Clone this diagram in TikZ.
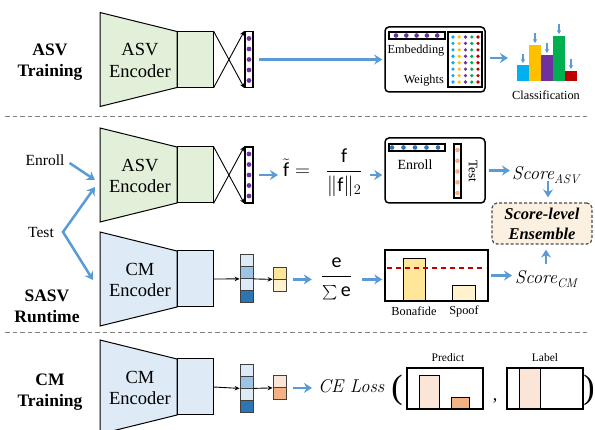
\documentclass[tikz,border=0pt]{standalone}
\usepackage{amsmath}
\usepackage{fontspec}
\newfontfamily\tnr{Liberation Serif}
\newfontfamily\carl{Carlito}
\usetikzlibrary{arrows.meta}
\definecolor{encgreen}{HTML}{E2F0D9}
\definecolor{encblue}{HTML}{DEEBF7}
\definecolor{arrblue}{HTML}{5B9BD5}
\definecolor{purp}{HTML}{7030A0}
\definecolor{dotblue}{HTML}{2E75B6}
\definecolor{dotorange}{HTML}{F4B183}
\definecolor{wcyan}{HTML}{00B0F0}
\definecolor{wgold}{HTML}{FFC000}
\definecolor{wgreen}{HTML}{00B050}
\definecolor{wred}{HTML}{C00000}
\definecolor{vlight}{HTML}{DEEBF7}
\definecolor{vmid}{HTML}{9DC3E6}
\definecolor{vdark}{HTML}{2E75B6}
\definecolor{ylw}{HTML}{FFE699}
\definecolor{ylwlight}{HTML}{FFF2CC}
\definecolor{peach}{HTML}{FBE5D6}
\definecolor{ensfill}{HTML}{FCF0E1}
\definecolor{sepgray}{HTML}{808080}
\newcommand{\myenc}[4]{%
  \draw[encline, fill=#2] (100,#1-47) -- (177,#1-28) -- (177,#1+28) -- (100,#1+47) -- cycle;
  \node[encrect, fill=#2] (#4r) at (195,#1) {};
  \node[enctext] (#4) at (140,#1+1) {#3\\Encoder};
}
\newcommand{\myvec}[2]{%
  \node[cell,fill=vlight] (#2a) at (246.5,#1-18) {};
  \node[cell,fill=vmid] (#2b) at (246.5,#1-6) {};
  \node[cell,fill=vlight] (#2c) at (246.5,#1+6) {};
  \node[cell,fill=vdark] (#2d) at (246.5,#1+18) {};
}
\newcommand{\myscore}[1]{{\itshape Score}\raisebox{-4pt}{\fontsize{12.5}{13}\selectfont\itshape #1}}
\begin{document}
\begin{tikzpicture}[x=1pt,y=-1pt,
  encline/.style={draw=black,line width=1pt,line join=miter},
  encrect/.style={draw=black,line width=1pt,minimum width=36pt,minimum height=56pt,inner sep=0pt},
  enctext/.style={align=center,font=\tnr\fontsize{18.5}{21.5}\selectfont,inner sep=0pt},
  seclabel/.style={align=center,font=\tnr\fontsize{17.5}{21}\selectfont\bfseries,inner sep=0pt},
  embbar/.style={draw=black,fill=white,line width=1.2pt,minimum width=8pt,minimum height=56pt,inner sep=0pt},
  karrow/.style={draw=black,line width=0.9pt,-{Stealth[length=5pt,width=4.5pt]}},
  barrow/.style={draw=arrblue,line width=2.5pt,-{Stealth[length=8pt,width=10pt]}},
  sarrow/.style={draw=arrblue,line width=1.2pt,-{Stealth[length=4pt,width=4.5pt]}},
  cell/.style={draw=black!75,line width=0.8pt,minimum width=13pt,minimum height=12pt,inner sep=0pt},
  rbox/.style={draw=black,line width=1.5pt,rounded corners=4pt,minimum width=100pt,minimum height=65pt,inner sep=0pt},
  sep/.style={draw=sepgray,line width=1pt,dash pattern=on 4.5pt off 3pt},
  lbl/.style={inner sep=0pt,font=\tnr\fontsize{12.3}{14}\selectfont},
  side/.style={inner sep=0pt,font=\tnr\fontsize{15.5}{18}\selectfont},
  hbar/.style={draw=black,fill=white,line width=1.2pt,minimum width=56pt,minimum height=7pt,inner sep=0pt},
  plainbox/.style={draw=black,line width=1.5pt,inner sep=0pt},
]
\useasboundingbox (0,0) rectangle (595,430);

% ---------------- ASV Training ----------------
\node[seclabel] (l1) at (50,62) {ASV\\Training};
\myenc{59.5}{encgreen}{ASV}{a1}
\node[embbar] (e1) at (249,59.5) {};
\foreach \d in {-21,-10.5,0,10.5,21} \fill[purp] (249,59.5+\d) circle[radius=2.4pt];
\draw[karrow] (a1r.north east) -- (e1.south west);
\draw[karrow] (a1r.south east) -- (e1.north west);

\node[rbox] (b1) at (435,59.5) {};
\draw[barrow,shorten <=5pt,shorten >=2pt] (e1.east) -- (b1.west);
\node[hbar] (emb1) at (417,35.5) {};
\foreach \x in {396,406.3,416.6,426.9,437.2} \fill[purp] (\x,35.5) circle[radius=2.3pt];
\node[lbl] (embt) at (416,51) {Embedding};
\node[lbl,anchor=east] (wt) at (444,81) {Weights};
\node[draw=black,line width=1.2pt,minimum width=34pt,minimum height=55pt,inner sep=0pt] (wm) at (465,59.5) {};
\foreach \c/\x in {wcyan/453,wgold/459.2,purp/465.5,wgreen/471.8,wred/478}
  \foreach \k in {0,...,7} \fill[\c] (\x,37+\k*6.43) circle[radius=1.8pt];

\coordinate (ch) at (508,58);
\draw[barrow,shorten <=4pt] (b1.east |- ch) -- (ch);
\fill[wcyan] (517,65) rectangle (529,81);
\fill[wgold] (529,45) rectangle (541,81);
\fill[purp] (541,55) rectangle (553,81);
\fill[wgreen] (553,36) rectangle (565,81);
\fill[wred] (565,71) rectangle (577,81);
\draw[sarrow] (523,54) -- (523,63);
\draw[sarrow] (535,33) -- (535,43);
\draw[sarrow] (547,43) -- (547,53);
\draw[sarrow] (559,24) -- (559,34);
\draw[sarrow] (571,59) -- (571,69);
\node[lbl] (cls) at (546,95) {Classification};

\draw[sep] (5,116.5) -- (590,116.5);

% ---------------- SASV Runtime ----------------
\node[side] (enr) at (45,160) {Enroll};
\node[side] (tst) at (41,233) {Test};
\myenc{175}{encgreen}{ASV}{a2}
\coordinate (a2in1) at (95,180);
\coordinate (a2in2) at (95,187);
\coordinate (tv) at (63,232);
\coordinate (cmin) at (93,280);
\draw[barrow] ([xshift=5pt,yshift=-3pt]enr.east) -- (a2in1);
\draw[draw=arrblue,line width=2.5pt,{Stealth[length=8pt,width=10pt]}-{Stealth[length=8pt,width=10pt]}] (a2in2) -- (tv) -- (cmin);

\node[embbar] (e2) at (249,175) {};
\foreach \d in {-21,-10.5,0,10.5,21} \fill[purp] (249,175+\d) circle[radius=2.4pt];
\draw[karrow] (a2r.north east) -- (e2.south west);
\draw[karrow] (a2r.south east) -- (e2.north west);

\node[anchor=base west,inner sep=0pt,font=\carl\fontsize{20}{24}\selectfont] (form1) at (283,177)
  {$\tilde{\mbox{f}}=\hspace{10pt}\displaystyle\frac{\mbox{f}}{\|\mbox{f}\|_{2}}$};
\draw[barrow,shorten <=5pt,shorten >=5pt] (e2.east) -- (e2.east -| form1.west);

\node[rbox] (b2) at (435,170.5) {};
\draw[barrow,shorten <=7pt,shorten >=2pt] (e2.east -| form1.east) -- (e2.east -| b2.west);
\node[hbar] (emb2) at (417,147.5) {};
\foreach \x in {392,403.5,415,426.5,438} \fill[dotblue] (\x,147.5) circle[radius=2.3pt];
\node[inner sep=0pt,font=\tnr\fontsize{14}{16}\selectfont] (enr2) at (415,165) {Enroll};
\node[draw=black,fill=white,line width=1.2pt,minimum width=7pt,minimum height=54pt,inner sep=0pt] (tb2) at (457.5,171) {};
\foreach \y in {150,160.8,171.5,182.3,193} \fill[dotorange] (457.5,\y) circle[radius=2.3pt];
\node[inner sep=0pt,rotate=-90,font=\tnr\fontsize{13}{15}\selectfont] (tst2) at (473,171) {Test};

\node[anchor=base west,inner sep=0pt,font=\fontsize{18.5}{20}\selectfont] (sasv) at (512,180) {\myscore{ASV}};
\draw[barrow,shorten <=3pt,shorten >=2pt] (b2.east) -- (b2.east -| sasv.west);

\node[draw=black!70,dash pattern=on 3pt off 2pt,line width=1.2pt,rounded corners=5pt,fill=ensfill,
      minimum width=100pt,minimum height=41pt,inner sep=0pt,align=center,
      font=\tnr\fontsize{16.5}{20}\selectfont\bfseries\itshape] (ens) at (542,223.5) {Score-level\\Ensemble};
\draw[barrow] ([xshift=6pt,yshift=21pt]ens.north) -- ([xshift=6pt,yshift=5pt]ens.north);

\myenc{279}{encblue}{CM}{c2}
\myvec{278.5}{v2}
\draw[karrow] (c2r.east) -- (v2b.south west);
\node[cell,fill=ylw] (s2a) at (279.5,273) {};
\node[cell,fill=ylwlight] (s2b) at (279.5,285) {};
\draw[karrow] (v2b.south east) -- (s2a.south west);

\node[anchor=base,inner sep=0pt,font=\carl\fontsize{20}{24}\selectfont] (form2) at (336.5,282)
  {$\displaystyle\frac{\mbox{e}}{\mbox{\fontsize{15}{15}\selectfont$\sum$}\,\mbox{e}}$};
\draw[barrow,shorten <=7pt,shorten >=9pt] (s2a.south east) -- (s2a.south east -| form2.west);

\node[plainbox,minimum width=103pt,minimum height=51pt] (b3) at (436.5,275.5) {};
\draw[barrow,shorten <=10pt,shorten >=2pt] (s2a.south east -| form2.east) -- (s2a.south east -| b3.west);
\draw[line width=1pt,fill=ylw] (403,259) rectangle (425,301);
\draw[line width=1pt,fill=ylwlight] (452,286) rectangle (475,301);
\draw[wred,line width=1.3pt,dash pattern=on 5pt off 4pt] (387,268) -- (486,268);
\node[lbl] (bona) at (414,311) {Bonafide};
\node[lbl] (spf) at (464,311) {Spoof};

\node[anchor=base west,inner sep=0pt,font=\fontsize{18.5}{20}\selectfont] (scm) at (515,284) {\myscore{CM}};
\draw[barrow,shorten <=2pt,shorten >=3pt] (b3.east) -- (b3.east -| scm.west);
\draw[barrow] ([xshift=4pt,yshift=-19pt]ens.south) -- ([xshift=4pt,yshift=-5pt]ens.south);

\node[seclabel] (l2) at (47,306) {SASV\\Runtime};

\draw[sep] (5,332.5) -- (590,332.5);

% ---------------- CM Training ----------------
\node[seclabel] (l3) at (50,392) {CM\\Training};
\myenc{387}{encblue}{CM}{c3}
\myvec{388}{v3}
\draw[karrow] (c3r.east) -- (v3b.south west);
\node[cell,fill=peach] (s3a) at (279.5,381.5) {};
\node[cell,fill=dotorange] (s3b) at (279.5,393.5) {};
\draw[karrow] (v3b.south east) -- (s3a.south west);

\node[anchor=base west,inner sep=0pt,font=\fontsize{18.5}{20}\selectfont\itshape] (ce) at (318,393) {CE Loss};
\draw[barrow,shorten <=7pt,shorten >=6pt] (s3a.south east) -- (s3a.south east -| ce.west);
\node[inner sep=0pt,font=\tnr\fontsize{34}{38}\selectfont] (lp) at (397,390) {(};
\node[inner sep=0pt,font=\tnr\fontsize{34}{38}\selectfont] (rp) at (589,390) {)};
\node[inner sep=0pt,font=\tnr\fontsize{18}{20}\selectfont] (cm) at (495,401) {,};

\draw[line width=1pt,fill=peach] (419,376) rectangle (439,409);
\draw[line width=1pt,fill=dotorange] (451,398) rectangle (469,409);
\node[draw=black,line width=1.3pt,minimum width=76pt,minimum height=41pt,inner sep=0pt] (pb) at (445,388.5) {};
\node[lbl,font=\tnr\fontsize{11.5}{13}\selectfont] (pt) at (448,358) {Predict};
\draw[line width=1pt,fill=peach] (519,368) rectangle (540,409);
\node[draw=black,line width=1.3pt,minimum width=76pt,minimum height=41pt,inner sep=0pt] (lb) at (545,388.5) {};
\node[lbl,font=\tnr\fontsize{11.5}{13}\selectfont] (lt) at (545,358) {Label};
\end{tikzpicture}
\end{document}
